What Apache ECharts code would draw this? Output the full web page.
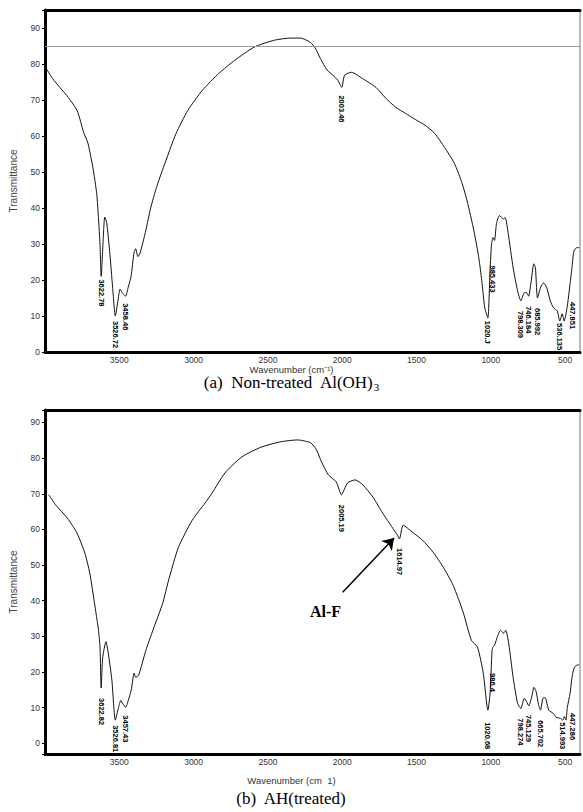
<!DOCTYPE html>
<html>
<head>
<meta charset="utf-8">
<script src="https://cdn.jsdelivr.net/npm/echarts@6/dist/echarts.min.js"></script>
<style>
  html, body { margin: 0; padding: 0; background: #fff; }
  #chart { width: 583px; height: 812px; }
</style>
</head>
<body>
<div id="chart"></div>
<script>
// (a) non-treated Al(OH)3 spectrum
var wnA = [3995, 3950, 3900, 3843, 3783, 3740, 3711, 3678, 3652, 3640, 3630, 3622, 3610, 3598, 3585, 3565, 3545, 3527, 3510, 3495, 3480, 3458, 3440, 3421, 3401, 3390, 3375, 3360, 3322, 3289, 3250, 3203, 3118, 3039, 2941, 2830, 2724, 2592, 2458, 2346, 2280, 2214, 2181, 2148, 2102, 2063, 2030, 2003, 1984, 1938, 1865, 1773, 1707, 1641, 1575, 1509, 1443, 1377, 1311, 1245, 1193, 1160, 1114, 1081, 1061, 1041, 1020, 1005, 995, 985, 975, 962, 942, 916, 903, 883, 850, 820, 798, 777, 760, 746, 731, 711, 700, 686, 665, 645, 625, 600, 579, 553, 536, 520, 507, 487, 467, 454, 441, 420, 405];
var tA = [79, 76, 73.5, 70.7, 67, 61, 58, 51.3, 44, 37, 30, 21, 30, 37.5, 36, 28, 18, 10, 14, 17.5, 16.5, 15.5, 18, 21, 27.6, 28.7, 26.5, 27.5, 33.7, 40, 45.7, 51.3, 60.7, 67.1, 72.7, 77.4, 81, 84.7, 86.6, 87.2, 87.2, 86, 84.4, 81.6, 78.3, 76.9, 75.5, 73.5, 76.9, 77.7, 76, 73.5, 70.5, 68, 66.3, 64.6, 63, 60.7, 56.8, 52.4, 46.8, 42, 33.7, 26.2, 19.8, 12.3, 9.5, 23, 30, 31.8, 31, 35.7, 37.9, 37, 37.3, 32.9, 23.4, 17, 14.2, 16.4, 16.5, 15.5, 18.9, 24.5, 23.4, 15, 18, 19.2, 18, 14.2, 12.3, 11.4, 8.6, 10.6, 8.6, 12.3, 18.9, 23.4, 28.1, 29, 29];

// (b) treated AH spectrum
var wnB = [3975, 3929, 3850, 3785, 3732, 3699, 3673, 3655, 3640, 3630, 3622, 3612, 3590, 3575, 3550, 3527, 3505, 3490, 3475, 3457, 3440, 3420, 3400, 3390, 3370, 3321, 3274, 3208, 3168, 3102, 3009, 2923, 2876, 2790, 2677, 2545, 2412, 2300, 2212, 2173, 2139, 2093, 2040, 2005, 1965, 1914, 1861, 1794, 1728, 1661, 1630, 1615, 1590, 1530, 1460, 1390, 1320, 1260, 1215, 1184, 1131, 1090, 1051, 1020, 1005, 992, 986, 975, 955, 935, 915, 900, 880, 850, 820, 798, 775, 757, 745, 725, 710, 695, 680, 666, 650, 635, 610, 580, 560, 533, 515, 505, 495, 485, 467, 454, 447, 435, 415, 405];
var tB = [69.7, 66.9, 63.2, 59, 53.4, 47.8, 41, 36, 31.7, 27, 15.5, 24, 28.5, 25.5, 17.7, 6.5, 10.1, 12, 11, 10.1, 12, 14.9, 19.7, 18.5, 19.1, 26.1, 31.7, 39.3, 45.8, 55, 62.6, 67.4, 70.2, 75.8, 80.3, 83.1, 84.6, 85.1, 84.3, 82.3, 78.9, 75.3, 73.3, 69.7, 73, 73.9, 72.5, 69.1, 64.6, 60.4, 58.5, 57.3, 61.2, 59.3, 57, 53.7, 49.4, 44.9, 40.2, 36.5, 28.9, 27, 19.7, 9.3, 14, 26, 27, 27.5, 30, 31.7, 30.9, 31.7, 28.1, 18.5, 11.2, 9.8, 12.6, 11.5, 10.5, 13, 15.7, 14.5, 11, 9.3, 12.6, 12.8, 9.3, 8.4, 7.3, 7, 6.5, 7.5, 6.5, 10.1, 14, 18.5, 20, 21.5, 22, 22];

// peak labels
var peakWnA = [3622.78, 3526.72, 3458.46, 2003.46, 1020, 985.433, 798.309, 746.184, 685.992, 536, 447.851];
var peakTA = [21, 10, 15.5, 73.5, 9.5, 31.8, 14.2, 15.5, 15, 8.6, 25];
var peakTextA = ['3622.78', '3526.72', '3458.46', '2003.46', '1020.J', '985.433', '798.309', '746.184', '685.992', '536.135', '447.851'];

var peakWnB = [3622.82, 3526.81, 3457.43, 2005.19, 1614.97, 1020.68, 986.4, 798.274, 745.129, 665.702, 514.993, 447.286];
var peakTB = [15.5, 6.5, 10.1, 69.7, 57.3, 9.3, 27, 9.8, 10.5, 9.3, 6.5, 20];
var peakTextB = ['3622.82', '3526.81', '3457.43', '2005.19', '1614.97', '1020.68', '986.4', '798.274', '745.129', '665.702', '514.993', '447.286'];

// gap between each point and its label (px)
var gapA = [3, 5, 7, 8, 3, 28, 10, 10, 10, 2, 40];
var gapB = [10, 5, 8, 10, 9, 12, 26, 10, 9, 10, 2, 41];

var yTicks = [0, 10, 20, 30, 40, 50, 60, 70, 80, 90];

var sans = 'Liberation Sans, Arial, sans-serif';
var serif = 'Liberation Serif, Times New Roman, serif';

function pairs(xs, ys) {
  return xs.map(function(x, i) { return [x, ys[i]]; });
}

function peakPoints(ws, ts, texts, gaps) {
  return ws.map(function(w, i) {
    return {
      name: texts[i],
      coord: [w, ts[i]],
      label: { distance: gaps[i] }
    };
  });
}

function xAxisFor(grid) {
  return {
    type: 'value', gridIndex: grid, inverse: true, min: 400, max: 4000, splitNumber: 7,
    axisLine: { show: true, onZero: false, lineStyle: { color: '#000', width: 3 } },
    axisTick: { show: false },
    splitLine: { show: false },
    axisLabel: {
      color: '#333', fontSize: 8.5, fontFamily: sans, margin: 3,
      formatter: function(v) { return (v % 500 === 0 && v < 4000) ? String(v) : ''; }
    }
  };
}

function topAxisFor(grid) {
  return {
    type: 'value', gridIndex: grid, position: 'top', inverse: true, min: 400, max: 4000,
    axisLine: { show: true, onZero: false, lineStyle: { color: '#000', width: 3 } },
    axisTick: { show: false }, axisLabel: { show: false }, splitLine: { show: false }
  };
}

function yAxisFor(grid, min, max) {
  return {
    type: 'value', gridIndex: grid, min: min, max: max, splitNumber: 10,
    name: 'Transmittance', nameLocation: 'middle', nameGap: 27,
    nameTextStyle: { color: '#444', fontSize: 10, fontFamily: sans },
    axisLine: { show: true, onZero: false, lineStyle: { color: '#000', width: 3 } },
    axisTick: { show: true, length: 3, lineStyle: { color: '#000' } },
    splitLine: { show: false },
    axisLabel: {
      color: '#333', fontSize: 8.5, fontFamily: sans, margin: 5,
      formatter: function(v) { return yTicks.indexOf(v) >= 0 ? String(v) : ''; }
    }
  };
}

var peakLabel = {
  show: true, position: 'bottom', rotate: -90, align: 'left', verticalAlign: 'middle',
  formatter: '{b}', color: '#000', fontSize: 7.5, fontWeight: 'bold', fontFamily: sans
};

var chart = echarts.init(document.getElementById('chart'), null, { renderer: 'svg' });
chart.setOption({
  animation: false,
  backgroundColor: '#fff',
  grid: [
    { left: 42, right: 0, top: 10, height: 342, show: true, borderColor: '#777', borderWidth: 1 },
    { left: 42, right: 0, top: 410, height: 344, show: true, borderColor: '#777', borderWidth: 1 }
  ],
  xAxis: [xAxisFor(0), xAxisFor(1), topAxisFor(0), topAxisFor(1)],
  yAxis: [yAxisFor(0, 0, 95), yAxisFor(1, -3, 93.5)],
  series: [{
    type: 'line', xAxisIndex: 0, yAxisIndex: 0,
    data: pairs(wnA, tA),
    showSymbol: false, smooth: 0.2,
    lineStyle: { color: '#111', width: 1 },
    markPoint: {
      symbol: 'circle', symbolSize: 0, silent: true,
      label: peakLabel,
      data: peakPoints(peakWnA, peakTA, peakTextA, gapA)
    },
    markLine: {
      silent: true, symbol: 'none', label: { show: false },
      lineStyle: { color: '#9a9a9a', width: 1, type: 'solid' },
      data: [{ yAxis: 85 }]
    }
  }, {
    type: 'line', xAxisIndex: 1, yAxisIndex: 1,
    data: pairs(wnB, tB),
    showSymbol: false, smooth: 0.2,
    lineStyle: { color: '#111', width: 1 },
    markPoint: {
      symbol: 'circle', symbolSize: 0, silent: true,
      label: peakLabel,
      data: peakPoints(peakWnB, peakTB, peakTextB, gapB)
    },
    markLine: {
      silent: true, symbol: ['none', 'arrow'], symbolSize: 11, label: { show: false },
      lineStyle: { color: '#000', width: 1.5, type: 'solid' },
      data: [[{ coord: [1997, 42.4] }, { coord: [1651, 57.6] }]]
    }
  }],
  graphic: [
    { type: 'text', left: 'center', top: 364, style: { text: 'Wavenumber (cm\u207B\u00B9)', fill: '#333', fontSize: 9.5, fontFamily: sans } },
    { type: 'text', left: 'center', top: 775, style: { text: 'Wavenumber (cm  1)', fill: '#333', fontSize: 9.5, fontFamily: sans } },
    { type: 'text', left: 'center', top: 374, style: {
      text: '{t|(a)  Non-treated  Al(OH)}{s|3}',
      rich: {
        t: { fontSize: 17, fontFamily: serif, fill: '#000' },
        s: { fontSize: 11, fontFamily: serif, fill: '#000', padding: [8, 0, 0, 0] }
      }
    } },
    { type: 'text', left: 'center', top: 790, style: { text: '(b)  AH(treated)', fill: '#000', fontSize: 17, fontFamily: serif } },
    { type: 'text', left: 310, top: 603, style: { text: 'Al-F', fill: '#000', fontSize: 16, fontWeight: 'bold', fontFamily: serif } }
  ]
});
window.addEventListener('resize', function() { chart.resize(); });
</script>
</body>
</html>
